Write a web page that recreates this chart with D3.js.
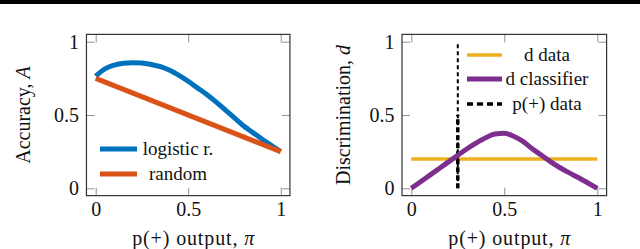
<!DOCTYPE html>
<html>
<head>
<meta charset="utf-8">
<script src="https://cdn.jsdelivr.net/npm/d3@7"></script>
<style>
body { margin:0; background:#fff; }
svg { display:block; }
text { font-family:"Liberation Serif", "DejaVu Serif", serif; fill:#111; }
</style>
</head>
<body>
<svg></svg>
<script>
// values
var tickValues = [0, 0.5, 1];
var tickLabels = ["0", "0.5", "1"];

var piGrid = [0,0.05,0.1,0.15,0.2,0.25,0.3,0.35,0.4,0.45,0.5,
              0.55,0.6,0.65,0.7,0.75,0.8,0.85,0.9,0.95,1];
var logisticAcc = [0.765,0.815,0.84,0.853,0.857,0.855,0.845,0.83,0.805,0.77,0.73,
                   0.685,0.64,0.59,0.535,0.48,0.425,0.38,0.335,0.292,0.25];
var randomPi = [0, 1];
var randomAcc = [0.75, 0.25];

var classifierD = [0,0.045,0.09,0.135,0.18,0.225,0.27,0.31,0.345,0.37,0.375,
                   0.355,0.32,0.27,0.225,0.18,0.14,0.105,0.072,0.036,0];
var dataPi = [0, 1];
var dataD = [0.2, 0.2];
var pPlusData = 0.25;
var dashD = [0, 1];
var dashLowD = [0, 0.5];

var leftLegend = ["logistic r.", "random"];
var rightLegend = ["d data", "d classifier", "p(+) data"];

var colors = {blue:"#0072BD", orange:"#D95319", yellow:"#EDB120", purple:"#7E2F8E"};

var svg = d3.select("svg").attr("width",640).attr("height",249);

svg.append("rect").attr("x",0).attr("y",0).attr("width",640).attr("height",4).attr("fill","#000");

var zip = function(xs, ys)
{
    return xs.map(function(x,i){ return [x, ys[i]]; });
}

// one framed plot: frame is data range enlarged by 5%
var drawFrame = function(target, xScale, yScale, box)
{
    var ticksStyle = function(g)
    {
        g.select(".domain").remove();
        g.selectAll(".tick line").attr("stroke","#777").attr("stroke-width",0.8);
        g.selectAll("text").style("font-family","'Liberation Serif', serif")
            .style("font-size","20px").attr("fill","#111");
    }
    target.append("g").attr("transform","translate(0,"+box.bottom+")")
        .call(d3.axisBottom(xScale).tickValues(tickValues).tickSizeInner(-8).tickSizeOuter(0)
              .tickPadding(6.5).tickFormat(function(d,i){ return tickLabels[i]; }))
        .call(ticksStyle);
    target.append("g").attr("transform","translate(0,"+box.top+")")
        .call(d3.axisTop(xScale).tickValues(tickValues).tickSizeInner(-8).tickSizeOuter(0).tickFormat(""))
        .call(ticksStyle);
    target.append("g").attr("transform","translate("+box.left+",0)")
        .call(d3.axisLeft(yScale).tickValues(tickValues).tickSizeInner(-8).tickSizeOuter(0)
              .tickPadding(7.5).tickFormat(function(d,i){ return tickLabels[i]; }))
        .call(ticksStyle);
    target.append("g").attr("transform","translate("+box.right+",0)")
        .call(d3.axisRight(yScale).tickValues(tickValues).tickSizeInner(-8).tickSizeOuter(0).tickFormat(""))
        .call(ticksStyle);
    target.append("rect")
        .attr("x",box.left).attr("y",box.top)
        .attr("width",box.right-box.left).attr("height",box.bottom-box.top)
        .attr("fill","none").attr("stroke","#333").attr("stroke-width",1.2);
}

var makeBox = function(xScale, yScale)
{
    var xr = xScale.range(), yr = yScale.range();
    var dx = (xr[1]-xr[0])*0.05, dy = (yr[0]-yr[1])*0.05;
    return {left:xr[0]-dx, right:xr[1]+dx, top:yr[1]-dy, bottom:yr[0]+dy};
}

var drawLine = function(target, pts, xScale, yScale, color, width, dash)
{
    var line = d3.line()
        .x(function(d){ return xScale(d[0]); })
        .y(function(d){ return yScale(d[1]); })
        .curve(d3.curveMonotoneX);
    var p = target.append("path").datum(pts)
        .attr("d", line)
        .attr("fill","none")
        .attr("stroke",color)
        .attr("stroke-width",width)
        .attr("stroke-linejoin","round");
    if (dash) p.attr("stroke-dasharray",dash);
    return p;
}

var drawLabels = function(xScale, yScale, yTitle, yTitleX, titleShift)
{
    var xr = xScale.range(), yr = yScale.range();
    var xt = svg.append("text")
        .attr("x",(xr[0]+xr[1])/2+titleShift).attr("y",245)
        .attr("text-anchor","middle")
        .style("font-size","20px")
        .attr("textLength",122).attr("lengthAdjust","spacing");
    xt.append("tspan").text("p(+) output, ");
    xt.append("tspan").style("font-style","italic").text("π");

    var yt = svg.append("g")
        .attr("transform","translate("+yTitleX+","+((yr[0]+yr[1])/2)+")")
        .append("text")
        .attr("transform","rotate(-90)")
        .attr("text-anchor","middle")
        .style("font-size","20px");
    yt.append("tspan").text(yTitle[0]);
    yt.append("tspan").style("font-style","italic").text(yTitle[1]);
}

var drawLegend = function(entries, x0, x1, textX, rows)
{
    var g = svg.append("g").classed("legend",true);
    entries.forEach(function(e,i)
    {
        var l = g.append("line")
            .attr("x1",x0).attr("x2",x1).attr("y1",rows[i]).attr("y2",rows[i])
            .attr("stroke",e.color).attr("stroke-width",e.width);
        if (e.dash) l.attr("stroke-dasharray",e.dash);
        g.append("text")
            .attr("x",textX).attr("y",rows[i]+5.5)
            .attr("text-anchor","middle")
            .style("font-size","19px")
            .text(e.name);
    });
}

// left: accuracy
var xLeft = d3.scaleLinear().domain([0,1]).range([95.7,280.7]);
var yAll = d3.scaleLinear().domain([0,1]).range([188.3,41.7]);
var gLeft = svg.append("g");
drawFrame(gLeft, xLeft, yAll, makeBox(xLeft,yAll));
drawLine(gLeft, zip(piGrid,logisticAcc), xLeft, yAll, colors.blue, 5);
drawLine(gLeft, zip(randomPi,randomAcc), xLeft, yAll, colors.orange, 5);
drawLabels(xLeft, yAll, ["Accuracy, ","A"], 30, 5);
drawLegend([
    {name:leftLegend[0], color:colors.blue, width:5},
    {name:leftLegend[1], color:colors.orange, width:5}
], 100, 137, 178, [149, 174]);

// right: discrimination
var xRight = d3.scaleLinear().domain([0,1]).range([411.3,597.3]);
var gRight = svg.append("g");
drawFrame(gRight, xRight, yAll, makeBox(xRight,yAll));
drawLine(gRight, zip(dataPi,dataD), xRight, yAll, colors.yellow, 3.5);
drawLine(gRight, zip([pPlusData,pPlusData],dashD), xRight, yAll, "#000", 2, "4,3");
drawLine(gRight, zip([pPlusData,pPlusData],dashLowD), xRight, yAll, "#000", 3.5, "5,3");
drawLine(gRight, zip(piGrid,classifierD), xRight, yAll, colors.purple, 5);
drawLabels(xRight, yAll, ["Discrimination, ","d"], 350, 5);
drawLegend([
    {name:rightLegend[0], color:colors.yellow, width:3.5},
    {name:rightLegend[1], color:colors.purple, width:5},
    {name:rightLegend[2], color:"#000", width:3.5, dash:"6,4"}
], 467, 502, 547, [55, 79, 104]);
</script>
</body>
</html>
